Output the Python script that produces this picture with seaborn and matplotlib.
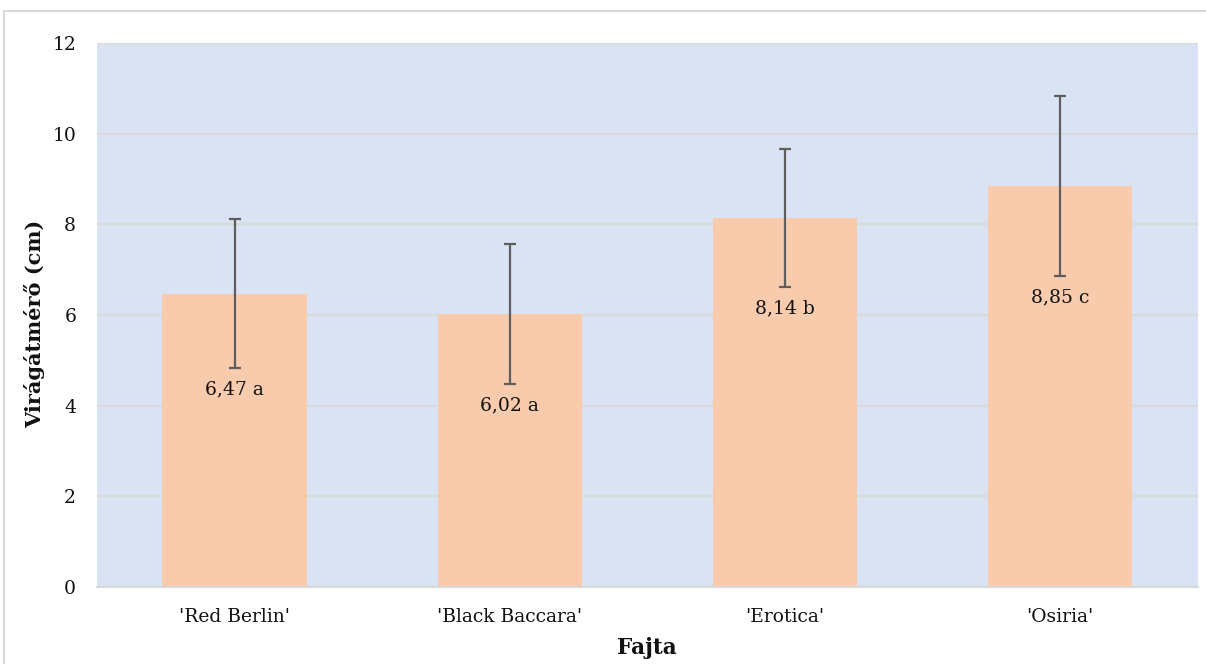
import matplotlib
matplotlib.use("Agg")
import matplotlib.pyplot as plt
import seaborn as sns
import pandas as pd
from matplotlib.patches import Rectangle

# Flower diameter per cultivar: mean, standard deviation, significance letter
cultivars = ["'Red Berlin'", "'Black Baccara'", "'Erotica'", "'Osiria'"]
means = [6.47, 6.02, 8.14, 8.85]
sds = [1.64, 1.55, 1.52, 1.99]
letters = ["a", "a", "b", "c"]
y_ticks = [0, 2, 4, 6, 8, 10, 12]

df = pd.DataFrame({"Fajta": cultivars, "mean": means, "sd": sds, "letter": letters})

sns.set_theme(style="white")
plt.rcParams["font.family"] = ["DejaVu Serif"]

fig = plt.figure(figsize=(12.06, 6.64), dpi=100)
ax = fig.add_axes([0.0804, 0.116, 0.9127, 0.8192])
ax.set_facecolor("#DAE3F3")

sns.barplot(data=df, x="Fajta", y="mean", color="#F8CBAD", saturation=1,
            width=0.524, errorbar=None, ax=ax, zorder=2)
for p in ax.patches:
    p.set_edgecolor("none")

xs = range(len(cultivars))
ax.errorbar(xs, df["mean"], yerr=df["sd"], fmt="none", ecolor="#5E5E5E",
            elinewidth=1.6, capsize=4.3, capthick=1.6, zorder=3)

for x, m, s, l in zip(xs, means, sds, letters):
    ax.annotate(f"{m:.2f}".replace(".", ",") + f" {l}", xy=(x, m - s),
                xytext=(0, -9), textcoords="offset points", ha="center", va="top",
                fontsize=13.5, color="#111111", zorder=4)

ax.set_ylim(0, 12)
ax.set_xlim(-0.5, 3.5)
ax.set_yticks(y_ticks)
ax.yaxis.grid(True, color="#D9D9D9", linewidth=1.5, zorder=0)
ax.set_axisbelow(True)
for side in ["left", "right", "top"]:
    ax.spines[side].set_visible(False)
ax.spines["bottom"].set_color("#D9D9D9")
ax.spines["bottom"].set_linewidth(1.5)

ax.tick_params(axis="both", length=0, labelsize=13.5, labelcolor="#111111")
ax.tick_params(axis="y", pad=15)
ax.tick_params(axis="x", pad=15)

ax.set_xlabel("Fajta", fontsize=15.5, fontweight="bold", color="#111111", labelpad=8)
ax.set_ylabel("Virágátmérő (cm)", fontsize=15, fontweight="bold", color="#111111", labelpad=12)
ax.yaxis.set_label_coords(-0.047, 0.483)

# Chart frame (top and left edges)
fig.patches.append(Rectangle((4 / 1206, -0.1), 1.2, (664 - 11) / 664 + 0.1,
                             transform=fig.transFigure, fill=False,
                             edgecolor="#D9D9D9", linewidth=1.5, zorder=0))

fig.savefig("out.png", dpi=100)
